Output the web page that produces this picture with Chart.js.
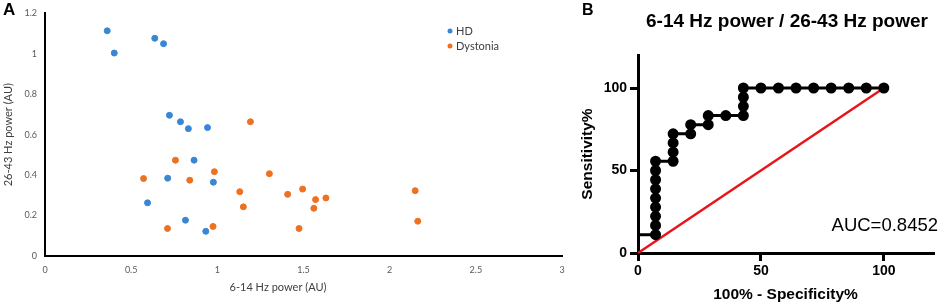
<!DOCTYPE html>
<html>
<head>
<meta charset="utf-8">
<script src="https://cdn.jsdelivr.net/npm/chart.js@4"></script>
<style>
  body { margin: 0; background: #fff; }
  #wrap { position: relative; width: 943px; height: 307px; }
  #left { position: absolute; left: 0; top: 0; }
  #right { position: absolute; left: 575px; top: 0; }
</style>
</head>
<body>
<div id="wrap">
  <canvas id="left" width="575" height="307"></canvas>
  <canvas id="right" width="368" height="307"></canvas>
</div>
<script>
// panel A: scatter of the two groups
var hdX = [0.361, 0.402, 0.637, 0.688, 0.722, 0.786, 0.832, 0.943, 0.865, 0.712, 0.977, 0.595, 0.815, 0.933];
var hdY = [1.114, 1.004, 1.077, 1.050, 0.696, 0.664, 0.630, 0.635, 0.474, 0.385, 0.365, 0.263, 0.177, 0.122];
var dysX = [1.192, 0.757, 0.572, 0.840, 0.983, 0.711, 0.975, 1.130, 1.151, 1.302, 1.408, 1.495, 1.570, 1.560, 1.474, 1.630, 2.148, 2.163];
var dysY = [0.664, 0.474, 0.383, 0.375, 0.417, 0.136, 0.146, 0.318, 0.243, 0.407, 0.305, 0.331, 0.279, 0.236, 0.136, 0.287, 0.323, 0.172];
var groupNames = ['HD', 'Dystonia'];
var xMax = 3, yMax = 1.2;

// panel B: ROC curve
var rocFpr = [0, 7.14, 7.14, 7.14, 7.14, 7.14, 7.14, 7.14, 7.14, 7.14,
              14.29, 14.29, 14.29, 14.29, 21.43, 21.43, 28.57, 28.57, 35.71,
              42.86, 42.86, 42.86, 42.86, 50, 57.14, 64.29, 71.43, 78.57, 85.71, 92.86, 100];
var rocTpr = [11.1, 11.1, 16.7, 22.2, 27.8, 33.3, 38.9, 44.4, 50, 55.6,
              55.6, 61.1, 66.7, 72.2, 72.2, 77.8, 77.8, 83.3, 83.3,
              83.3, 88.9, 94.4, 100, 100, 100, 100, 100, 100, 100, 100, 100];
var refX = [0, 100];
var refY = [0, 100];
var rocTicks = [0, 50, 100];
var aucText = 'AUC=0.8452';

function pts(xs, ys) {
    return xs.map(function(x, i) { return { x: x, y: ys[i] }; });
}
function plainNum(v) {
    return String(Math.round(v * 10) / 10);
}
// only the zero grid line is drawn, in black, as the axis line
function zeroLineColor(ctx) {
    return ctx.tick && ctx.tick.value === 0 ? '#000000' : 'rgba(0,0,0,0)';
}

var grayText = '#404040';
var blue = '#3b86d3';
var orange = '#ee7122';

var leftText = {
    id: 'leftText',
    afterDraw: function(chart) {
        var c = chart.ctx;
        c.save();
        c.fillStyle = '#000';
        c.font = 'bold 17px "Liberation Sans", Arial';
        c.textAlign = 'left';
        c.textBaseline = 'top';
        c.fillText('A', 3, 2);

        c.fillStyle = grayText;
        c.font = '11px Lato';
        c.textAlign = 'center';
        c.textBaseline = 'middle';
        c.fillText('6-14 Hz power (AU)', 278, 287);

        // legend
        c.textAlign = 'left';
        chart.data.datasets.filter(function(ds) { return ds.label; }).forEach(function(ds, i) {
            var y = 31 + i * 15;
            c.fillStyle = ds.backgroundColor;
            c.beginPath();
            c.arc(450, y, 2.5, 0, Math.PI * 2);
            c.fill();
            c.fillStyle = grayText;
            c.fillText(ds.label, 456, y);
        });
        c.restore();
    }
};

new Chart(document.getElementById('left'), {
    type: 'scatter',
    data: {
        datasets: [{
            label: groupNames[0],
            data: pts(hdX, hdY),
            backgroundColor: blue,
            borderColor: blue,
            pointRadius: 3
        }, {
            label: groupNames[1],
            data: pts(dysX, dysY),
            backgroundColor: orange,
            borderColor: orange,
            pointRadius: 3
        }, {
            // black L-shaped axis frame
            data: [{ x: 0, y: yMax }, { x: 0, y: 0 }, { x: xMax, y: 0 }],
            showLine: true,
            borderColor: '#000',
            borderWidth: 2,
            pointRadius: 0,
            clip: false
        }]
    },
    options: {
        responsive: false,
        devicePixelRatio: 1,
        animation: false,
        layout: { padding: { top: 9, right: 13, left: 0, bottom: 0 } },
        plugins: { legend: { display: false }, tooltip: { enabled: false } },
        scales: {
            x: {
                type: 'linear',
                min: 0, max: xMax,
                ticks: { stepSize: 0.5, color: '#595959', font: { family: 'Lato', size: 9 }, padding: 9,
                         callback: plainNum },
                grid: { display: true, drawOnChartArea: true, drawTicks: false, color: zeroLineColor, lineWidth: 2 },
                border: { display: true, color: '#000', width: 2 },
                afterFit: function(s) { s.height = 51; }
            },
            y: {
                min: 0, max: yMax,
                ticks: { stepSize: 0.2, color: '#595959', font: { family: 'Lato', size: 9 }, padding: 8,
                         callback: plainNum },
                grid: { display: true, drawOnChartArea: true, drawTicks: false, color: zeroLineColor, lineWidth: 2 },
                border: { display: true, color: '#000', width: 2 },
                title: { display: true, text: '26-43 Hz power (AU)', color: grayText,
                         font: { family: 'Lato', size: 11 }, padding: { top: 2, bottom: 0 } },
                afterFit: function(s) { s.width = 45; }
            }
        }
    },
    plugins: [leftText]
});

var rightText = {
    id: 'rightText',
    afterDraw: function(chart) {
        var c = chart.ctx;
        c.save();
        c.fillStyle = '#000';
        c.font = 'bold 16px "Liberation Sans", Arial';
        c.textAlign = 'left';
        c.textBaseline = 'top';
        c.fillText('B', 7, 3);

        c.font = 'bold 19px "Liberation Sans", Arial';
        c.textAlign = 'center';
        c.textBaseline = 'middle';
        c.fillText('6-14 Hz power / 26-43 Hz power', 212, 22);

        c.font = '18.5px "Liberation Sans", Arial';
        c.textAlign = 'right';
        c.fillText(aucText, 363, 226);
        c.restore();
    }
};

var tickFont = { family: '"Liberation Sans", Arial', size: 14, weight: 'bold' };
var titleFont = { family: '"Liberation Sans", Arial', size: 15.5, weight: 'bold' };

new Chart(document.getElementById('right'), {
    type: 'scatter',
    data: {
        datasets: [{
            data: pts(rocFpr, rocTpr),
            showLine: true,
            borderColor: '#000',
            backgroundColor: '#000',
            borderWidth: 3,
            pointRadius: function(ctx) { return ctx.dataIndex === 0 ? 0 : 4; },
            clip: false
        }, {
            data: pts(refX, refY),
            showLine: true,
            borderColor: '#e8141c',
            borderWidth: 2.5,
            pointRadius: 0,
            clip: false
        }]
    },
    options: {
        responsive: false,
        devicePixelRatio: 1,
        animation: false,
        layout: { padding: { top: 55, right: 10, left: 0, bottom: 0 } },
        plugins: { legend: { display: false }, tooltip: { enabled: false } },
        scales: {
            x: {
                type: 'linear',
                min: 0, max: 120,
                afterBuildTicks: function(s) { s.ticks = rocTicks.map(function(v) { return { value: v }; }); },
                ticks: { color: '#000', font: tickFont, padding: 2 },
                grid: { drawOnChartArea: false, drawTicks: true, tickLength: 8, color: '#000', lineWidth: 3 },
                border: { display: true, color: '#000', width: 3 },
                title: { display: true, text: '100% - Specificity%', color: '#000', font: titleFont,
                         padding: { top: 0, bottom: 3 } },
                afterFit: function(s) { s.height = 54; }
            },
            y: {
                min: 0, max: 120,
                afterBuildTicks: function(s) { s.ticks = rocTicks.map(function(v) { return { value: v }; }); },
                ticks: { color: '#000', font: tickFont, padding: 3 },
                grid: { drawOnChartArea: false, drawTicks: true, tickLength: 8, color: '#000', lineWidth: 3 },
                border: { display: true, color: '#000', width: 3 },
                title: { display: true, text: 'Sensitivity%', color: '#000', font: titleFont,
                         padding: { top: 3, bottom: 0 } },
                afterFit: function(s) { s.width = 63; }
            }
        }
    },
    plugins: [rightText]
});
</script>
</body>
</html>
